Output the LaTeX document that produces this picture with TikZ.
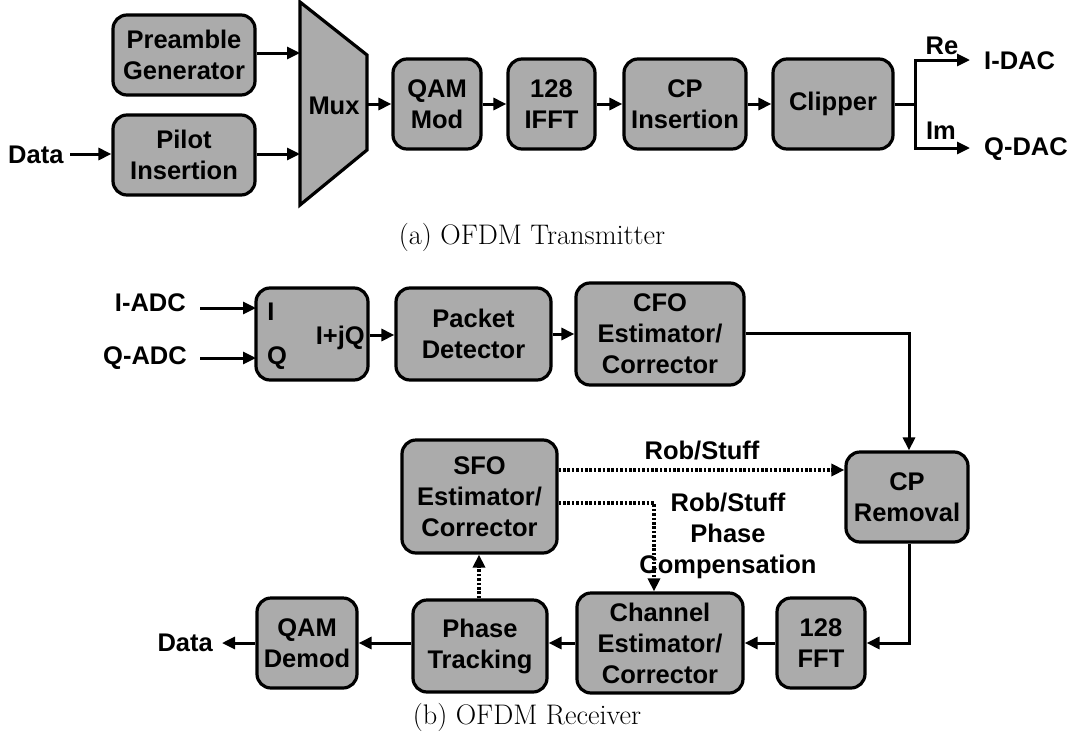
\documentclass[tikz,border=0pt]{standalone}
\usepackage{fontspec}
\newfontfamily\blkfont{Liberation Sans}
\usetikzlibrary{arrows.meta,calc}
\begin{document}
\begin{tikzpicture}[x=1pt,y=-1pt,
  blk/.style={draw=black, fill=black!33, line width=3.2pt, rounded corners=14pt,
    align=center, inner sep=0pt, font=\blkfont\bfseries\fontsize{25.5}{31}\selectfont},
  lbl/.style={inner sep=0pt, align=center, font=\blkfont\bfseries\fontsize{25.5}{31}\selectfont},
  captxt/.style={inner sep=0pt, font=\fontsize{28.3}{32}\selectfont},
  conn/.style={line width=3pt, -{Triangle[length=13pt,width=12pt]}},
  dconn/.style={line width=3.4pt, dash pattern=on 2.6pt off 1.8pt, -{Triangle[length=13pt,width=12pt]}}
]
\useasboundingbox (0,0) rectangle (1069,737);

% ---------- Transmitter ----------
\node[blk, minimum width=142pt, minimum height=80pt] (pre) at (184,55) {Preamble\\Generator};
\node[blk, minimum width=142pt, minimum height=80pt] (pil) at (184,155) {Pilot\\Insertion};
\node[lbl, anchor=west] (din) at (8,155) {Data};
\draw[draw=black, fill=black!33, line width=3.2pt, line join=miter]
  (300,2) -- (367,55) -- (367,150) -- (300,205) -- cycle;
\node[lbl] (mux) at (334,106) {Mux};
\coordinate (muxi1) at (300,53);
\coordinate (muxi2) at (300,154);
\coordinate (muxo) at (367,104);
\node[blk, minimum width=88pt, minimum height=90pt] (qam) at (437,104) {QAM\\Mod};
\node[blk, minimum width=87pt, minimum height=90pt] (ifft) at (551.5,104) {128\\IFFT};
\node[blk, minimum width=122pt, minimum height=90pt] (cpi) at (685,104) {CP\\Insertion};
\node[blk, minimum width=120pt, minimum height=90pt] (clip) at (833,104) {Clipper};
\coordinate (split) at (915,104);
\node[lbl, anchor=west] (idac) at (984,61) {I-DAC};
\node[lbl, anchor=west] (qdac) at (984,149) {Q-DAC};
\coordinate (reend) at (970,60);
\coordinate (imend) at (970,148);
\node[lbl] (re) at (942,46) {Re};
\node[lbl] (im) at (941,131) {Im};

\coordinate (dinend) at (70,154);
\draw[conn] (dinend) -- (pil.west |- dinend);
\draw[conn] (pre.east |- muxi1) -- (muxi1);
\draw[conn] (pil.east |- muxi2) -- (muxi2);
\draw[conn] (muxo) -- (qam.west);
\draw[conn] (qam.east) -- (ifft.west);
\draw[conn] (ifft.east) -- (cpi.west);
\draw[conn] (cpi.east) -- (clip.west);
\draw[line width=3pt] (clip.east) -- (split);
\draw[conn] (split) |- (reend);
\draw[conn] (split) |- (imend);

\node[captxt] (capa) at (532,237) {(a) OFDM Transmitter};

% ---------- Receiver ----------
\node[lbl, anchor=east] (iadc) at (186,303) {I-ADC};
\node[lbl, anchor=east] (qadc) at (187,358) {Q-ADC};
\node[blk, minimum width=112pt, minimum height=92pt] (iq) at (312,334) {};
\node[lbl] (iql) at (271,312) {I};
\node[lbl] (iqq) at (277,358) {Q};
\node[lbl, anchor=east] (iqo) at (365,338) {I+jQ};
\coordinate (iqi1) at (256,308);
\coordinate (iqi2) at (256,358);
\coordinate (ia) at (200,308);
\coordinate (qa) at (200,358);
\draw[conn] (ia) -- (iqi1);
\draw[conn] (qa) -- (iqi2);

\node[blk, minimum width=155pt, minimum height=92pt] (pkt) at (473.5,334) {Packet\\Detector};
\node[blk, minimum width=168pt, minimum height=102pt] (cfo) at (660,334) {CFO\\Estimator/\\Corrector};
\node[blk, minimum width=122pt, minimum height=90pt] (cpr) at (907,497) {CP\\Removal};
\node[blk, minimum width=155pt, minimum height=113pt] (sfo) at (479.5,496.5) {SFO\\Estimator/\\Corrector};
\node[blk, minimum width=100pt, minimum height=90pt] (qdm) at (307,643) {QAM\\Demod};
\node[blk, minimum width=134pt, minimum height=92pt] (pht) at (480,646) {Phase\\Tracking};
\node[blk, minimum width=166pt, minimum height=100pt] (che) at (660,643) {Channel\\Estimator/\\Corrector};
\node[blk, minimum width=88pt, minimum height=90pt] (fft) at (821,643) {128\\FFT};
\node[lbl, anchor=east] (dout) at (213,643) {Data};
\coordinate (doutend) at (222,643);

\draw[conn] (iq.east |- 0,335) -- (pkt.west |- 0,335);
\draw[conn] (pkt.east |- 0,334) -- (cfo.west |- 0,334);
\draw[conn] (cfo.east |- 0,333) -| (cpr.north -| 909,0);
\draw[conn] (cpr.south -| 909,0) |- (fft.east);
\draw[conn] (fft.west) -- (che.east);
\draw[conn] (che.west) -- (pht.east |- 0,643);
\draw[conn] (pht.west |- 0,643) -- (qdm.east);
\draw[conn] (qdm.west) -- (doutend);

\coordinate (bend) at (654,503);
\draw[dconn] (sfo.east |- 0,470) -- (cpr.west |- 0,470);
\draw[dconn] (sfo.east |- bend) -- (bend) -- (che.north -| bend);
\draw[dconn] (pht.north -| 479,0) -- (sfo.south -| 479,0);

\node[lbl] (rs1) at (702,451) {Rob/Stuff};
\node[lbl] (rs2) at (728,536) {Rob/Stuff\\Phase\\Compensation};

\node[captxt] (capb) at (527,717) {(b) OFDM Receiver};
\end{tikzpicture}
\end{document}
